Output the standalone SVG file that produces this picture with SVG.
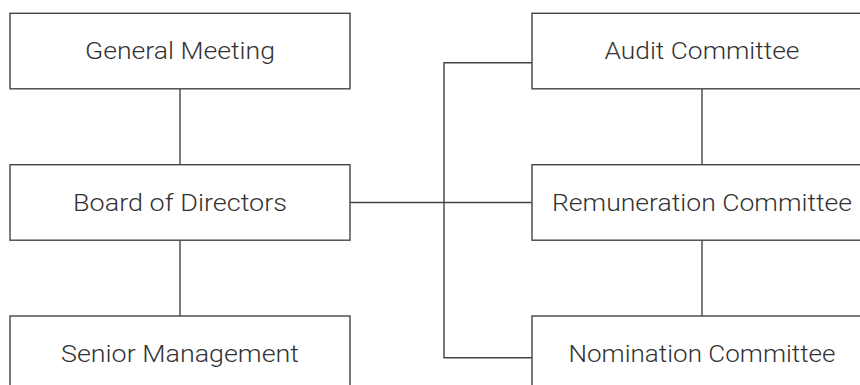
<svg xmlns="http://www.w3.org/2000/svg" width="860" height="385" viewBox="0 0 860 385">
<style>
.box{fill:#fff;stroke:#444;stroke-width:1.4}
.lbl{font-family:Roboto,"Liberation Sans",Arial,sans-serif;font-weight:300;font-size:24.5px;fill:#333;text-anchor:middle}
.con{stroke:#444;stroke-width:1.4;fill:none}
</style>
<rect width="860" height="385" fill="#fff"/>
<g id="connectors">
<line class="con" x1="180" y1="89" x2="180" y2="165"/>
<line class="con" x1="180" y1="240" x2="180" y2="316"/>
<line class="con" x1="702" y1="89" x2="702" y2="165"/>
<line class="con" x1="702" y1="240" x2="702" y2="316"/>
<line class="con" x1="350" y1="202.5" x2="532" y2="202.5"/>
<polyline class="con" points="532,62.7 444,62.7 444,357.7 532,357.7"/>
</g>
<g id="general-meeting">
<rect class="box" x="10" y="13.3" width="340" height="75.5"/>
<text class="lbl" x="180" y="59" textLength="190" lengthAdjust="spacingAndGlyphs">General Meeting</text>
</g>
<g id="board-of-directors">
<rect class="box" x="10" y="164.7" width="340" height="75.5"/>
<text class="lbl" x="180" y="210.5" textLength="214" lengthAdjust="spacingAndGlyphs">Board of Directors</text>
</g>
<g id="senior-management">
<rect class="box" x="10" y="316" width="340" height="75.5"/>
<text class="lbl" x="180" y="362" textLength="238" lengthAdjust="spacingAndGlyphs">Senior Management</text>
</g>
<g id="audit-committee">
<rect class="box" x="532" y="13.3" width="340" height="75.5"/>
<text class="lbl" x="702" y="59" textLength="195" lengthAdjust="spacingAndGlyphs">Audit Committee</text>
</g>
<g id="remuneration-committee">
<rect class="box" x="532" y="164.7" width="340" height="75.5"/>
<text class="lbl" x="702" y="210.5" textLength="300" lengthAdjust="spacingAndGlyphs">Remuneration Committee</text>
</g>
<g id="nomination-committee">
<rect class="box" x="532" y="316" width="340" height="75.5"/>
<text class="lbl" x="702" y="362" textLength="267" lengthAdjust="spacingAndGlyphs">Nomination Committee</text>
</g>
</svg>
